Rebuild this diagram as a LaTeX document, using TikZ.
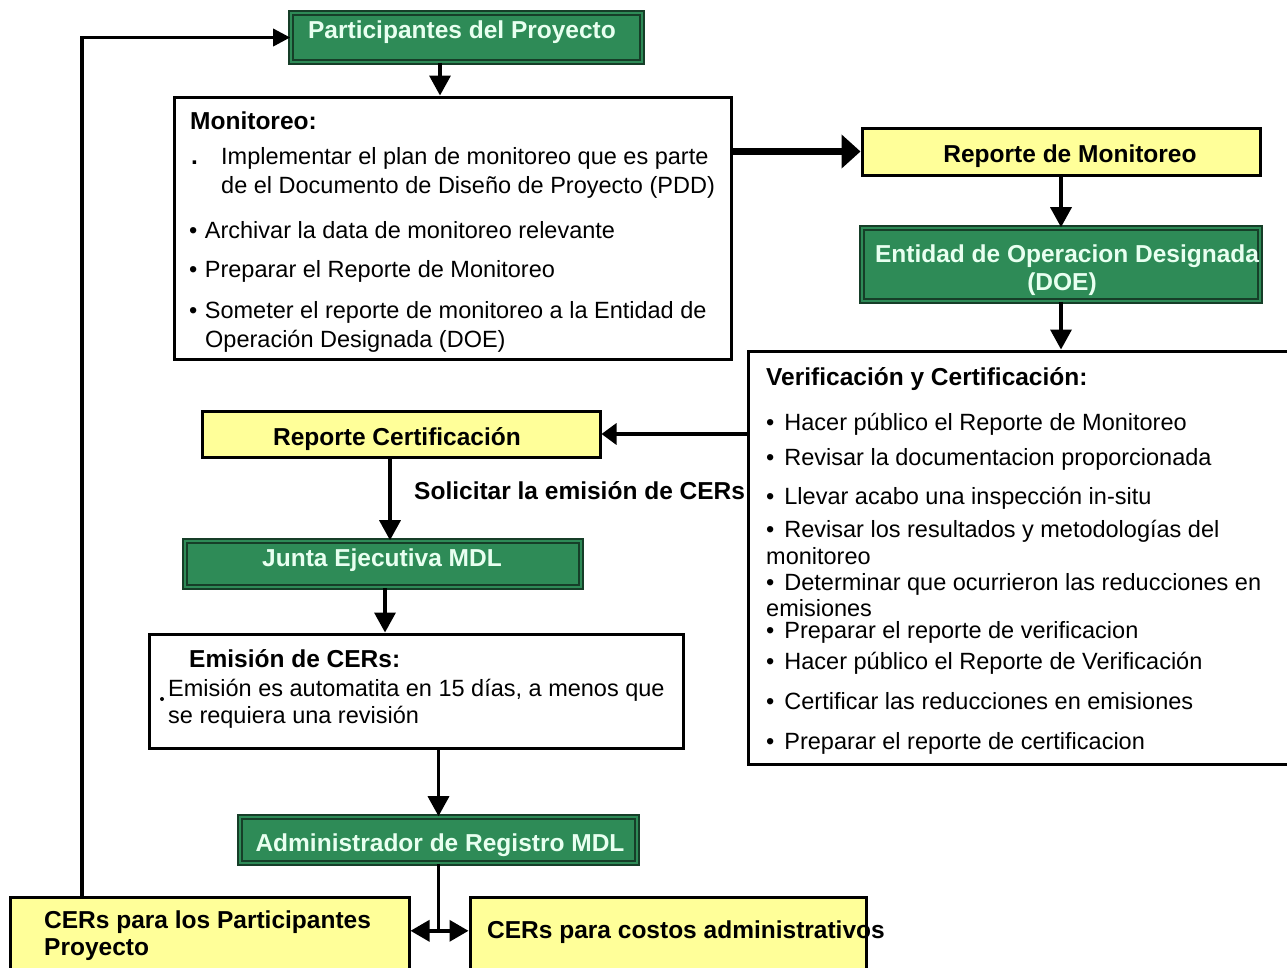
\documentclass[tikz,border=0pt]{standalone}
\usepackage{fontspec}
\setmainfont{Liberation Sans}
\usetikzlibrary{arrows.meta}
\definecolor{boxgreen}{RGB}{46,139,87}
\definecolor{edgegreen}{RGB}{22,62,40}
\definecolor{boxyellow}{RGB}{255,255,153}
\definecolor{mint}{RGB}{232,255,240}
\newcommand\mybold{\fontsize{24.5}{28}\selectfont\bfseries}
\newcommand\mybody{\fontsize{23.5}{29}\selectfont}
\newcommand\bulA{\textbullet\hspace{7.5pt}}
\newcommand\bulB{\textbullet\hspace{10pt}}
\begin{document}
\begin{tikzpicture}[x=1pt,y=-1pt,
  box/.style={rectangle, inner sep=0pt, draw=black, line width=3pt},
  whitebox/.style={box, fill=white},
  yellowbox/.style={box, fill=boxyellow},
  greenbox/.style={rectangle, inner sep=0pt, fill=boxgreen, draw=edgegreen, line width=1.6pt, double=boxgreen, double distance=2pt},
  txt/.style={inner sep=0pt, anchor=base west, font=\mybody, text=black},
  ttl/.style={inner sep=0pt, anchor=base west, font=\mybold, text=black},
  ctr/.style={inner sep=0pt, anchor=base, font=\mybold, text=black},
  gctr/.style={ctr, text=mint},
  arr/.style={line width=3.5pt, -{Triangle[length=20pt,width=21pt]}},
  bigarr/.style={line width=7pt, -{Triangle[length=19pt,width=33pt]}},
  sidearr/.style={line width=3.5pt, -{Triangle[length=15pt,width=21pt]}},
  thinarr/.style={line width=3.5pt, -{Triangle[length=17pt,width=17pt]}},
  dblarr/.style={line width=3.5pt, {Triangle[length=19pt,width=21pt]}-{Triangle[length=19pt,width=21pt]}}
]
\clip (0,0) rectangle (1287,967);
\fill[white] (0,0) rectangle (1287,967);

% ---------- boxes ----------
\node[greenbox, minimum width=351pt, minimum height=49pt] (part) at (466.5,37.5) {};
\node[gctr] (partlbl) at (462,38) {Participantes del Proyecto};

\node[whitebox, minimum width=557pt, minimum height=262pt] (mon) at (452.5,228) {};
\node[yellowbox, minimum width=398pt, minimum height=47pt] (repmon) at (1061,151.5) {};
\node[ctr] (repmonlbl) at (1070,162) {Reporte de Monitoreo};
\node[greenbox, minimum width=398pt, minimum height=73pt] (doe) at (1061,264.5) {};
\node[gctr] (doelbl1) at (1067,262) {Entidad de Operacion Designada};
\node[gctr] (doelbl2) at (1062,290) {(DOE)};
\node[whitebox, minimum width=542pt, minimum height=413pt] (ver) at (1019,557.5) {};
\node[yellowbox, minimum width=398pt, minimum height=46pt] (repcert) at (401,434) {};
\node[ctr] (repcertlbl) at (397,445) {Reporte Certificación};
\node[greenbox, minimum width=396pt, minimum height=46pt] (junta) at (383,564) {};
\node[gctr] (juntalbl) at (382,566) {Junta Ejecutiva MDL};
\node[whitebox, minimum width=534pt, minimum height=114pt] (emi) at (416,691) {};
\node[greenbox, minimum width=397pt, minimum height=46pt] (admin) at (438.5,840) {};
\node[gctr] (adminlbl) at (440,851) {Administrador de Registro MDL};
\node[yellowbox, minimum width=399pt, minimum height=93pt] (cerp) at (209.5,943.5) {};
\node[yellowbox, minimum width=396pt, minimum height=93pt] (cerc) at (668,943.5) {};

% ---------- Monitoreo text ----------
\node[ttl] (mont) at (190,129) {Monitoreo:};
\node[ttl] (mondot) at (191,164) {.};
\node[txt] (mon1a) at (221,164) {Implementar el plan de monitoreo que es parte};
\node[txt] (mon1b) at (221,193) {de el Documento de Diseño de Proyecto (PDD)};
\node[txt] (mon2) at (189,238) {\bulA Archivar la data de monitoreo relevante};
\node[txt] (mon3) at (189,277) {\bulA Preparar el Reporte de Monitoreo};
\node[txt] (mon4a) at (189,318) {\bulA Someter el reporte de monitoreo a la Entidad de};
\node[txt] (mon4b) at (205,347) {Operación Designada (DOE)};

% ---------- Verificacion text ----------
\node[ttl] (vert) at (766,385) {Verificación y Certificación:};
\node[txt] (ver1) at (766,430) {\bulB Hacer público el Reporte de Monitoreo};
\node[txt] (ver2) at (766,465) {\bulB Revisar la documentacion proporcionada};
\node[txt] (ver3) at (766,504) {\bulB Llevar acabo una inspección in-situ};
\node[txt] (ver4a) at (766,537) {\bulB Revisar los resultados y metodologías del};
\node[txt] (ver4b) at (766,564) {monitoreo};
\node[txt] (ver5a) at (766,590) {\bulB Determinar que ocurrieron las reducciones en};
\node[txt] (ver5b) at (766,616) {emisiones};
\node[txt] (ver6) at (766,638) {\bulB Preparar el reporte de verificacion};
\node[txt] (ver7) at (766,669) {\bulB Hacer público el Reporte de Verificación};
\node[txt] (ver8) at (766,709) {\bulB Certificar las reducciones en emisiones};
\node[txt] (ver9) at (766,749) {\bulB Preparar el reporte de certificacion};

% ---------- Emision text ----------
\node[ttl] (emit) at (189,667) {Emisión de CERs:};
\node[circle, fill=black, inner sep=0pt, minimum size=4pt] (emidot) at (162,699) {};
\node[txt] (emi1a) at (168,696) {Emisión es automatita en 15 días, a menos que};
\node[txt] (emi1b) at (168,723) {se requiera una revisión};

% ---------- other labels ----------
\node[ttl] (solic) at (414,499) {Solicitar la emisión de CERs};
\node[ttl] (cerp1) at (44,928) {CERs para los Participantes};
\node[ttl] (cerp2) at (44,955) {Proyecto};
\node[ttl] (cerc1) at (487,938) {CERs para costos administrativos};

% ---------- connectors ----------
\coordinate (p1) at ([xshift=-26.5pt]part.south);
\draw[arr] (p1) -- (p1 |- mon.north);
\draw[bigarr] (mon.east |- repmon.west) -- (repmon.west);
\draw[arr] (repmon.south) -- (doe.north);
\draw[arr] (doe.south) -- (doe.south |- ver.north);
\draw[sidearr] (ver.west |- repcert.east) -- (repcert.east);
\coordinate (p2) at ([xshift=-11pt]repcert.south);
\draw[arr] (p2) -- (p2 |- junta.north);
\coordinate (p3) at ([xshift=2pt]junta.south);
\draw[arr] (p3) -- (p3 |- emi.north);
\draw[arr] (admin.north |- emi.south) -- (admin.north);
\coordinate (split) at ([yshift=-67pt]admin.south);
\draw[line width=3.5pt] (admin.south) -- (split);
\draw[dblarr] (split -| cerp.east) -- (split -| cerc.west);
\coordinate (p4) at ([xshift=-127.5pt]cerp.north);
\draw[thinarr] (p4) |- (part.west);
\end{tikzpicture}
\end{document}
